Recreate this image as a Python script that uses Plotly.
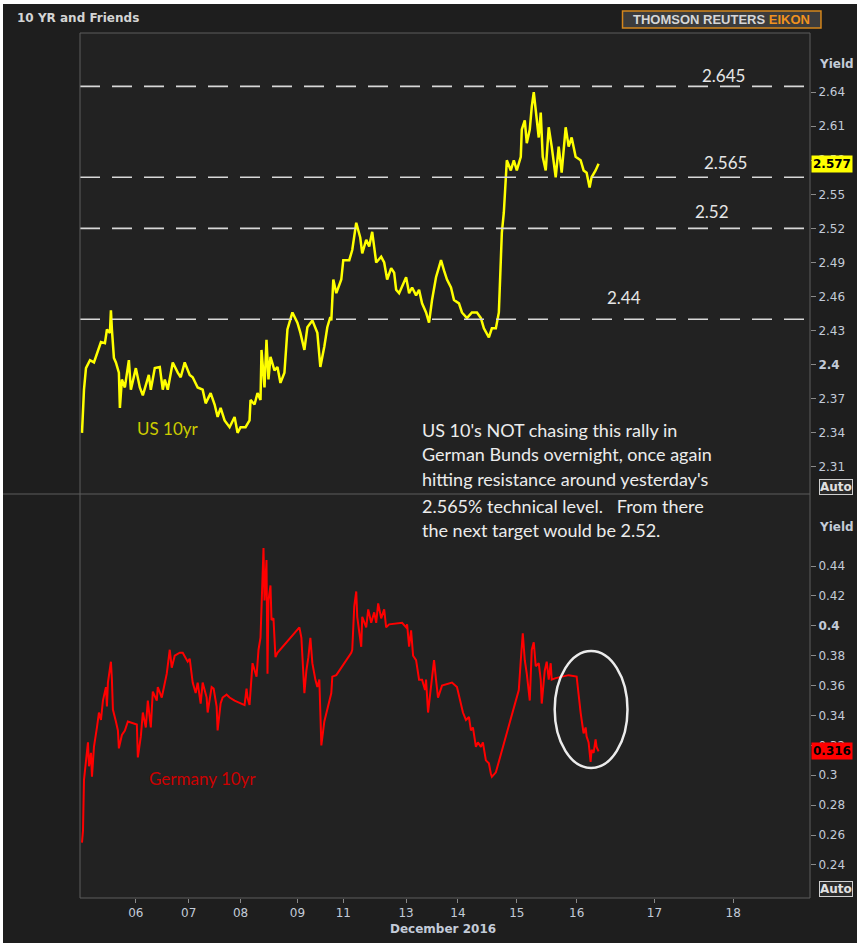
import plotly.graph_objects as go

# ---------------- data ----------------
# session-time index (compressed trading time, Dec 5 -> Dec 16 2016)
us_t = [2, 3, 4, 6, 8, 10, 14, 18, 21, 25, 27, 30, 31, 32, 34, 36, 39, 40, 42, 45,
        49, 51, 56, 60, 63, 69, 71, 75, 80, 83, 85, 88, 93, 98, 101, 105, 110, 113, 118, 123,
        126, 131, 135, 138, 141, 145, 150, 155, 158, 161, 166, 170, 171, 175, 178, 181, 182, 185, 187, 189,
        191, 195, 198, 201, 205, 208, 213, 218, 221, 225, 228, 233, 238, 241, 245, 248, 251, 252, 254, 257,
        262, 264, 270, 273, 277, 281, 283, 287, 290, 293, 295, 297, 302, 305, 308, 312, 315, 317, 320, 324,
        327, 330, 333, 337, 340, 343, 347, 350, 353, 357, 362, 365, 368, 372, 375, 380, 383, 388, 393, 398,
        402, 405, 410, 413, 417, 420, 422, 423, 425, 427, 428, 432, 435, 438, 442, 443, 446, 448, 451, 453,
        455, 457, 460, 462, 464, 467, 470, 473, 477, 480, 483, 487, 490, 493, 497, 502, 505, 508, 511, 513,
        517, 520]
us_yield = [2.340, 2.363, 2.378, 2.397, 2.400, 2.404, 2.402, 2.413, 2.420, 2.419, 2.431, 2.428, 2.448, 2.431, 2.406, 2.402, 2.393, 2.362, 2.387, 2.380,
            2.404, 2.378, 2.397, 2.380, 2.373, 2.391, 2.378, 2.397, 2.398, 2.378, 2.387, 2.378, 2.402, 2.393, 2.389, 2.402, 2.391, 2.389, 2.380, 2.378,
            2.366, 2.375, 2.365, 2.354, 2.362, 2.351, 2.345, 2.354, 2.340, 2.345, 2.345, 2.351, 2.369, 2.365, 2.375, 2.369, 2.413, 2.380, 2.422, 2.387,
            2.407, 2.395, 2.398, 2.384, 2.393, 2.431, 2.446, 2.437, 2.428, 2.413, 2.433, 2.439, 2.428, 2.398, 2.416, 2.433, 2.442, 2.439, 2.475, 2.463,
            2.475, 2.492, 2.492, 2.501, 2.525, 2.512, 2.498, 2.510, 2.504, 2.517, 2.504, 2.490, 2.495, 2.490, 2.475, 2.485, 2.481, 2.466, 2.463, 2.472,
            2.477, 2.463, 2.468, 2.461, 2.466, 2.454, 2.446, 2.437, 2.457, 2.477, 2.492, 2.483, 2.475, 2.468, 2.457, 2.454, 2.446, 2.441, 2.446, 2.446,
            2.441, 2.432, 2.424, 2.432, 2.432, 2.446, 2.492, 2.516, 2.534, 2.563, 2.580, 2.571, 2.580, 2.571, 2.583, 2.607, 2.615, 2.595, 2.607, 2.627,
            2.640, 2.624, 2.600, 2.622, 2.583, 2.571, 2.609, 2.592, 2.565, 2.592, 2.569, 2.609, 2.592, 2.600, 2.583, 2.580, 2.571, 2.569, 2.556, 2.565,
            2.571, 2.577]

de_t = [2, 3, 4, 6, 8, 9, 11, 12, 14, 17, 19, 21, 23, 26, 27, 28, 31, 32, 33, 36,
        38, 39, 42, 45, 48, 57, 58, 61, 63, 66, 68, 71, 73, 77, 78, 82, 84, 87, 90, 92,
        95, 100, 103, 108, 110, 113, 116, 118, 121, 123, 127, 128, 132, 134, 137, 138, 141, 143, 147, 150,
        155, 165, 167, 168, 170, 172, 173, 177, 179, 181, 182, 184, 185, 187, 188, 189, 191, 192, 194, 196,
        198, 220, 222, 225, 227, 229, 231, 233, 236, 238, 240, 242, 245, 248, 252, 253, 257, 272, 273, 275,
        277, 278, 280, 282, 283, 287, 289, 292, 295, 297, 299, 302, 305, 307, 310, 323, 327, 328, 330, 332,
        334, 337, 340, 343, 346, 347, 349, 352, 355, 357, 359, 363, 373, 378, 382, 384, 387, 390, 392, 394,
        397, 399, 402, 404, 407, 410, 412, 413, 417, 440, 442, 444, 446, 448, 451, 453, 455, 457, 460, 462,
        463, 466, 468, 470, 472, 473, 477, 490, 498, 500, 502, 503, 505, 507, 508, 510, 512, 513, 515, 517,
        518, 520]
de_yield = [0.255, 0.263, 0.297, 0.312, 0.322, 0.306, 0.315, 0.299, 0.319, 0.332, 0.342, 0.337, 0.350, 0.359, 0.346, 0.362, 0.376, 0.364, 0.344, 0.336,
            0.330, 0.318, 0.327, 0.330, 0.336, 0.334, 0.312, 0.326, 0.342, 0.332, 0.350, 0.332, 0.356, 0.350, 0.359, 0.352, 0.359, 0.368, 0.384, 0.372,
            0.380, 0.382, 0.382, 0.376, 0.378, 0.362, 0.355, 0.362, 0.348, 0.362, 0.352, 0.342, 0.359, 0.358, 0.346, 0.330, 0.348, 0.352, 0.354, 0.352,
            0.350, 0.347, 0.358, 0.352, 0.347, 0.368, 0.375, 0.366, 0.384, 0.392, 0.416, 0.452, 0.417, 0.444, 0.368, 0.417, 0.427, 0.404, 0.405, 0.379,
            0.382, 0.399, 0.392, 0.355, 0.370, 0.379, 0.392, 0.375, 0.364, 0.359, 0.364, 0.320, 0.336, 0.344, 0.355, 0.366, 0.367, 0.382, 0.384, 0.413,
            0.423, 0.406, 0.397, 0.386, 0.406, 0.399, 0.411, 0.402, 0.409, 0.402, 0.415, 0.405, 0.411, 0.399, 0.401, 0.402, 0.399, 0.401, 0.386, 0.397,
            0.380, 0.377, 0.364, 0.364, 0.357, 0.364, 0.342, 0.360, 0.377, 0.364, 0.352, 0.360, 0.362, 0.359, 0.346, 0.342, 0.337, 0.339, 0.330, 0.332,
            0.319, 0.322, 0.319, 0.322, 0.310, 0.308, 0.301, 0.299, 0.302, 0.357, 0.377, 0.395, 0.377, 0.368, 0.350, 0.384, 0.389, 0.373, 0.375, 0.364,
            0.348, 0.370, 0.376, 0.364, 0.375, 0.364, 0.365, 0.367, 0.366, 0.352, 0.342, 0.337, 0.328, 0.332, 0.326, 0.322, 0.309, 0.317, 0.315, 0.324,
            0.319, 0.316]

x_tick_pos = [56, 109, 161, 218, 264, 327, 379, 438, 498, 576, 655]
x_tick_labels = ["06", "07", "08", "09", "11", "13", "14", "15", "16", "17", "18"]

us_ticks = [2.31, 2.34, 2.37, 2.40, 2.43, 2.46, 2.49, 2.52, 2.55, 2.58, 2.61, 2.64]
us_tick_labels = ["2.31", "2.34", "2.37", "<b>2.4</b>", "2.43", "2.46", "2.49", "2.52", "2.55", "2.58", "2.61", "2.64"]
de_ticks = [0.24, 0.26, 0.28, 0.30, 0.32, 0.34, 0.36, 0.38, 0.40, 0.42, 0.44]
de_tick_labels = ["0.24", "0.26", "0.28", "0.3", "0.32", "0.34", "0.36", "0.38", "<b>0.4</b>", "0.42", "0.44"]

levels = [2.645, 2.565, 2.52, 2.44]
level_labels = ["2.645", "2.565", "2.52", "2.44"]
level_label_t = [645, 647, 634, 545]

us_last = 2.577
de_last = 0.316

note_lines = ["US 10's NOT chasing this rally in",
              "German Bunds overnight, once again",
              "hitting resistance around yesterday's",
              "2.565% technical level.\u00a0\u00a0 From there",
              "the next target would be 2.52."]

# ---------------- layout helpers ----------------
OFFX, OFFY = 3, 4  # thin light border of the original screenshot
W, H = 857 - OFFX, 943 - OFFY
ML, MT = 80 - OFFX, 33 - OFFY
MR = 45
MB = (H + OFFY) - 898
PW, PH = W - ML - MR, H - MT - MB


def px(xp):  # screen pixel -> paper x
    return (xp - OFFX - ML) / PW


def py(yp):  # screen pixel -> paper y
    return (H - MB - (yp - OFFY)) / PH


split = py(494)

AXC = "#c3cbd8"
FRAME = "#5c5c5c"
UIFONT = "DejaVu Sans"
TXTFONT = "Lato"

fig = go.Figure()
fig.add_trace(go.Scatter(x=us_t, y=us_yield, mode="lines", name="US 10yr",
                         line=dict(color="#ffff00", width=2.5), xaxis="x", yaxis="y",
                         hoverinfo="skip"))
fig.add_trace(go.Scatter(x=de_t, y=de_yield, mode="lines", name="Germany 10yr",
                         line=dict(color="#ff0000", width=2), xaxis="x", yaxis="y2",
                         hoverinfo="skip"))

shapes = []
for lv in levels:
    shapes.append(dict(type="line", xref="paper", yref="y", x0=0, x1=1, y0=lv, y1=lv,
                       line=dict(color="#d8d8d8", width=1.6, dash="20px,12px")))
shapes += [
    dict(type="line", xref="paper", yref="paper", x0=0, x1=1, y0=1, y1=1, line=dict(color=FRAME, width=1)),
    dict(type="line", xref="paper", yref="paper", x0=px(0), x1=1, y0=split, y1=split, line=dict(color=FRAME, width=1)),
    dict(type="line", xref="paper", yref="paper", x0=0, x1=1, y0=0, y1=0, line=dict(color=FRAME, width=1)),
    dict(type="line", xref="paper", yref="paper", x0=0, x1=0, y0=0, y1=1, line=dict(color=FRAME, width=1)),
    dict(type="line", xref="paper", yref="paper", x0=1, x1=1, y0=0, y1=1, line=dict(color=FRAME, width=1)),
]
shapes.append(dict(type="rect", xref="paper", yref="paper", x0=px(624), x1=px(823), y0=py(28), y1=py(11),
                   line=dict(color="#d4861c", width=1.5), fillcolor="#3c3c3c", layer="above"))
shapes.append(dict(type="circle", xref="paper", yref="paper", x0=px(556), x1=px(629), y0=py(768), y1=py(651),
                   line=dict(color="#ececec", width=2.5)))

ann = []
ann.append(dict(text="<b>10 YR and Friends</b>", xref="paper", yref="paper", x=px(15), y=py(18),
                xanchor="left", yanchor="middle", showarrow=False,
                font=dict(family=UIFONT, size=12, color="#d4d4d4")))
ann.append(dict(text="<b>THOMSON REUTERS <span style='color:#f0921e'>EIKON</span></b>", xref="paper", yref="paper",
                x=px(723.5), y=py(19.5), xanchor="center", yanchor="middle", showarrow=False,
                font=dict(family="Liberation Sans", size=13, color="#d6d6d6")))
shifts = [-2, 2, 4, 9]
for lab, tx, lv, sh in zip(level_labels, level_label_t, levels, shifts):
    ann.append(dict(text=lab, x=tx, y=lv, xref="x", yref="y", xanchor="center", yanchor="bottom",
                    yshift=sh, showarrow=False, font=dict(family=TXTFONT, size=17, color="#e6e6e6")))
ann.append(dict(text="US 10yr", xref="paper", yref="paper", x=px(168), y=py(428), xanchor="center",
                yanchor="middle", showarrow=False, font=dict(family=TXTFONT, size=17, color="#cccc00")))
ann.append(dict(text="Germany 10yr", xref="paper", yref="paper", x=px(203), y=py(778), xanchor="center",
                yanchor="middle", showarrow=False, font=dict(family=TXTFONT, size=17, color="#cc0000")))
line_y = [430, 454, 479, 506, 530]
for txt, ly in zip(note_lines, line_y):
    ann.append(dict(text=txt, xref="paper", yref="paper", x=px(421), y=py(ly), xanchor="left",
                    yanchor="middle", showarrow=False, font=dict(family=TXTFONT, size=18, color="#ececec")))
for yy in (py(64), py(527)):
    ann.append(dict(text="<b>Yield</b>", xref="paper", yref="paper", x=px(819), y=yy, xanchor="left",
                    yanchor="middle", showarrow=False, font=dict(family=UIFONT, size=12, color=AXC)))
ann.append(dict(text="<b>%.3f</b>" % us_last, xref="paper", yref="y", x=1, y=us_last, xanchor="left",
                yanchor="middle", showarrow=False, bgcolor="#ffff00", borderpad=1, xshift=1,
                font=dict(family=UIFONT, size=12, color="#000000")))
ann.append(dict(text="<b>%.3f</b>" % de_last, xref="paper", yref="y2", x=1, y=de_last, xanchor="left",
                yanchor="middle", showarrow=False, bgcolor="#ff0000", borderpad=1, xshift=1,
                font=dict(family=UIFONT, size=12, color="#000000")))
for yy in (py(487), py(889)):
    ann.append(dict(text="<b>Auto</b>", xref="paper", yref="paper", x=px(821), y=yy, xanchor="left",
                    yanchor="middle", showarrow=False, bordercolor="#d0d0d0", borderwidth=1, borderpad=0,
                    bgcolor="#2a2a2a", font=dict(family=UIFONT, size=12, color="#e0e0e0")))
ann.append(dict(text="<b>December 2016</b>", xref="paper", yref="paper", x=px(444), y=py(929),
                xanchor="center", yanchor="middle", showarrow=False,
                font=dict(family=UIFONT, size=12, color=AXC)))

fig.update_layout(
    width=W, height=H,
    margin=dict(l=ML, r=MR, t=MT, b=MB),
    paper_bgcolor="#1e1e1e", plot_bgcolor="#222222",
    showlegend=False,
    xaxis=dict(domain=[0, 1], anchor="y2", range=[0, PW], tickmode="array",
               tickvals=x_tick_pos, ticktext=x_tick_labels, showgrid=False, zeroline=False,
               ticks="outside", ticklen=4, tickcolor="#8a8a8a", showline=False,
               tickfont=dict(family=UIFONT, size=12, color=AXC)),
    yaxis=dict(domain=[split, 1], range=[2.2862, 2.692], side="right", anchor="x",
               tickmode="array", tickvals=us_ticks, ticktext=us_tick_labels,
               showgrid=False, zeroline=False, ticks="outside", ticklen=5, tickcolor="#8a8a8a",
               tickfont=dict(family=UIFONT, size=12, color=AXC)),
    yaxis2=dict(domain=[0, split], range=[0.2179, 0.4882], side="right", anchor="x",
                tickmode="array", tickvals=de_ticks, ticktext=de_tick_labels,
                showgrid=False, zeroline=False, ticks="outside", ticklen=5, tickcolor="#8a8a8a",
                tickfont=dict(family=UIFONT, size=12, color=AXC)),
    shapes=shapes,
    annotations=ann,
)

page_css = ("document.body.style.margin='%dpx 0 0 %dpx';"
            "document.body.style.overflow='hidden';" % (OFFY, OFFX))
fig.write_html("out.html", post_script=page_css)
